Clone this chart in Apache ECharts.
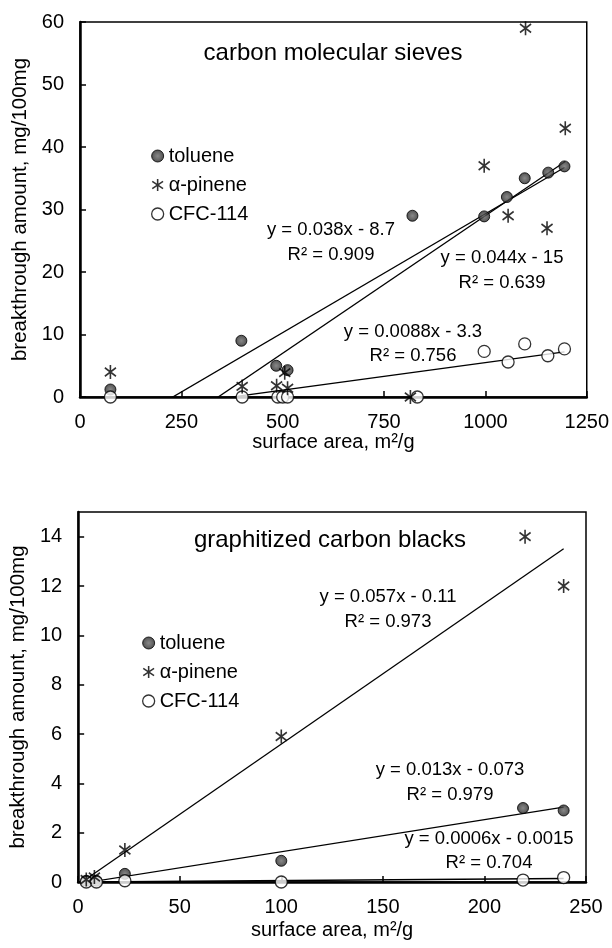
<!DOCTYPE html>
<html>
<head>
<meta charset="utf-8">
<script src="https://cdn.jsdelivr.net/npm/echarts@6/dist/echarts.min.js"></script>
<style>
  html, body { margin: 0; padding: 0; background: #fff; }
  #chart { width: 612px; height: 948px; }
</style>
</head>
<body>
<div id="chart"></div>
<script>
// ---- carbon molecular sieves (surface area m2/g vs breakthrough mg/100mg) ----
const cmsTolueneX = [75, 398, 484, 512, 820, 997, 1053, 1097, 1155, 1195];
const cmsTolueneY = [1.2, 9.0, 5.0, 4.3, 29.0, 28.9, 32.0, 35.0, 35.9, 36.9];
const cmsPineneX  = [75, 400, 485, 505, 512, 815, 997, 1056, 1099, 1152, 1197];
const cmsPineneY  = [4.0, 1.7, 1.8, 3.9, 1.4, 0, 37.0, 29.0, 59.0, 27.0, 43.0];
const cmsCfcX     = [75, 400, 488, 500, 512, 832, 997, 1056, 1097, 1154, 1195];
const cmsCfcY     = [0, 0, 0, 0, 0, 0, 7.3, 5.6, 8.5, 6.6, 7.7];
// linear fits: toluene, a-pinene, CFC-114
const cmsFitSlope     = [0.038, 0.044, 0.0088];
const cmsFitIntercept = [-8.7, -15, -3.3];
const cmsFitR2        = ['0.909', '0.639', '0.756'];
const cmsXTicks = [0, 250, 500, 750, 1000, 1250];
const cmsYTicks = [0, 10, 20, 30, 40, 50, 60];

// ---- graphitized carbon blacks ----
const gcbTolueneX = [4, 9, 23, 100, 219, 239];
const gcbTolueneY = [0.05, 0.05, 0.33, 0.86, 3.0, 2.9];
const gcbPineneX  = [4, 8, 23, 100, 220, 239];
const gcbPineneY  = [0.1, 0.2, 1.3, 5.9, 14.0, 12.0];
const gcbCfcX     = [4, 9, 23, 100, 219, 239];
const gcbCfcY     = [0, 0, 0.05, 0, 0.08, 0.18];
const gcbFitSlope     = [0.013, 0.057, 0.0006];
const gcbFitIntercept = [-0.073, -0.11, -0.0015];
const gcbFitR2        = ['0.979', '0.973', '0.704'];
const gcbXTicks = [0, 50, 100, 150, 200, 250];
const gcbYTicks = [0, 2, 4, 6, 8, 10, 12, 14];

const seriesNames = ['toluene', '\u03b1-pinene', 'CFC-114'];

const FONT = "'Liberation Sans', Arial, Helvetica, sans-serif";
// six-armed star: vertical bar plus two diagonals
const STAR = 'path://M8.7,0L11.3,0L11.3,20L8.7,20Z' +
  'M0.28,5.08L1.72,2.92L19.72,14.92L18.28,17.08Z' +
  'M1.72,17.08L0.28,14.92L18.28,2.92L19.72,5.08Z';

// dark filled disc with a slightly lighter core
const TOLUENE_FILL = {
  type: 'radial', x: 0.5, y: 0.5, r: 0.5,
  colorStops: [{ offset: 0, color: '#6a6a6a' }, { offset: 0.55, color: '#444' }, { offset: 1, color: '#1e1e1e' }]
};

const zip = (xs, ys) => xs.map((x, i) => [x, ys[i]]);

function markerStyles() {
  return [
    { symbol: 'circle', symbolSize: 11,
      itemStyle: { color: TOLUENE_FILL, borderColor: '#000', borderWidth: 1 } },
    { symbol: STAR, symbolSize: [12, 14],
      itemStyle: { color: '#000' } },
    { symbol: 'circle', symbolSize: 12,
      itemStyle: { color: '#fff', borderColor: '#000', borderWidth: 1.3 } }
  ];
}

function scatterSeries(gridIdx, sets) {
  const st = markerStyles();
  return sets.map((d, i) => Object.assign({
    type: 'scatter', name: seriesNames[i], data: d,
    xAxisIndex: gridIdx, yAxisIndex: gridIdx, z: 3 + (i === 1 ? 1 : 0)
  }, st[i]));
}

function fitSeries(gridIdx, xsets, slopes, intercepts) {
  return slopes.map((m, i) => {
    const xs = xsets[i];
    const x0 = Math.min(...xs), x1 = Math.max(...xs);
    return {
      type: 'line', name: 'fit ' + i, xAxisIndex: gridIdx, yAxisIndex: gridIdx,
      data: [[x0, m * x0 + intercepts[i]], [x1, m * x1 + intercepts[i]]],
      showSymbol: false, symbol: 'none', clip: true, silent: true, z: 2,
      lineStyle: { color: '#000', width: 1.3 }
    };
  });
}

function eqText(m, b) {
  return 'y = ' + m + 'x - ' + Math.abs(b);
}

function label(text, x, y, size) {
  return {
    type: 'text', x: x, y: y, z: 10,
    style: { text: text, font: size + 'px ' + FONT, fill: '#000',
             align: 'center', verticalAlign: 'middle' }
  };
}

function xAxis(gridIdx, ticks, gap) {
  return {
    type: 'value', gridIndex: gridIdx,
    min: ticks[0], max: ticks[ticks.length - 1], interval: ticks[1] - ticks[0],
    name: 'surface area, m\u00b2/g', nameLocation: 'middle', nameGap: gap,
    nameTextStyle: { fontFamily: FONT, fontSize: 20, color: '#000' },
    axisLine: { onZero: false, lineStyle: { color: '#000', width: 2.5 } },
    axisTick: { inside: true, length: 6, lineStyle: { color: '#000', width: 1.5 } },
    axisLabel: { margin: 15, fontFamily: FONT, fontSize: 20, color: '#000',
                 formatter: v => String(v) },
    splitLine: { show: false }
  };
}

function yAxis(gridIdx, ticks, max, gap) {
  return {
    type: 'value', gridIndex: gridIdx,
    min: ticks[0], max: max, interval: ticks[1] - ticks[0],
    name: 'breakthrough amount, mg/100mg', nameLocation: 'middle', nameGap: gap,
    nameRotate: 90,
    nameTextStyle: { fontFamily: FONT, fontSize: 20.5, color: '#000' },
    axisLine: { lineStyle: { color: '#000', width: 2.5 } },
    axisTick: { inside: true, length: 6, lineStyle: { color: '#000', width: 1.5 } },
    axisLabel: { margin: 16, fontFamily: FONT, fontSize: 20, color: '#000',
                 showMaxLabel: max === ticks[ticks.length - 1],
                 formatter: v => String(v) },
    splitLine: { show: false }
  };
}

function legendFor(left, top) {
  const st = markerStyles();
  return {
    orient: 'vertical', left: left, top: top,
    itemWidth: 12, itemHeight: 12, itemGap: 9,
    textStyle: { fontFamily: FONT, fontSize: 20, color: '#000' },
    data: seriesNames.map((n, i) => ({ name: n, icon: st[i].symbol, itemStyle: st[i].itemStyle }))
  };
}

const cmsSets = [zip(cmsTolueneX, cmsTolueneY), zip(cmsPineneX, cmsPineneY), zip(cmsCfcX, cmsCfcY)];
const gcbSets = [zip(gcbTolueneX, gcbTolueneY), zip(gcbPineneX, gcbPineneY), zip(gcbCfcX, gcbCfcY)];

const option = {
  animation: false,
  backgroundColor: '#fff',
  grid: [
    { left: 80, top: 22, width: 507, height: 375, show: true,
      borderColor: '#000', borderWidth: 1.5, backgroundColor: 'transparent' },
    { left: 73, top: 512, width: 513, height: 370, show: true,
      borderColor: '#000', borderWidth: 1.5, backgroundColor: 'transparent' }
  ],
  xAxis: [xAxis(0, cmsXTicks, 34), xAxis(1, gcbXTicks, 38)],
  yAxis: [yAxis(0, cmsYTicks, 60, 48), yAxis(1, gcbYTicks, 15, 42)],
  legend: [legendFor(146, 141), legendFor(137, 628)],
  series: [].concat(
    fitSeries(0, [cmsTolueneX, cmsPineneX, cmsCfcX], cmsFitSlope, cmsFitIntercept),
    scatterSeries(0, cmsSets),
    fitSeries(1, [gcbTolueneX, gcbPineneX, gcbCfcX], gcbFitSlope, gcbFitIntercept),
    scatterSeries(1, gcbSets)
  ),
  graphic: [
    label('carbon molecular sieves', 333, 53, 24),
    label(eqText(cmsFitSlope[0], cmsFitIntercept[0]), 331, 230, 18.5),
    label('R\u00b2 = ' + cmsFitR2[0], 331, 255, 18.5),
    label(eqText(cmsFitSlope[1], cmsFitIntercept[1]), 502, 258, 18.5),
    label('R\u00b2 = ' + cmsFitR2[1], 502, 283, 18.5),
    label(eqText(cmsFitSlope[2], cmsFitIntercept[2]), 413, 332, 18.5),
    label('R\u00b2 = ' + cmsFitR2[2], 413, 356, 18.5),

    label('graphitized carbon blacks', 330, 540, 24),
    label(eqText(gcbFitSlope[1], gcbFitIntercept[1]), 388, 597, 18.5),
    label('R\u00b2 = ' + gcbFitR2[1], 388, 622, 18.5),
    label(eqText(gcbFitSlope[0], gcbFitIntercept[0]), 450, 770, 18.5),
    label('R\u00b2 = ' + gcbFitR2[0], 450, 795, 18.5),
    label(eqText(gcbFitSlope[2], gcbFitIntercept[2]), 489, 839, 18.5),
    label('R\u00b2 = ' + gcbFitR2[2], 489, 863, 18.5)
  ]
};

const chart = echarts.init(document.getElementById('chart'), null, { renderer: 'canvas' });
chart.setOption(option);
</script>
</body>
</html>
